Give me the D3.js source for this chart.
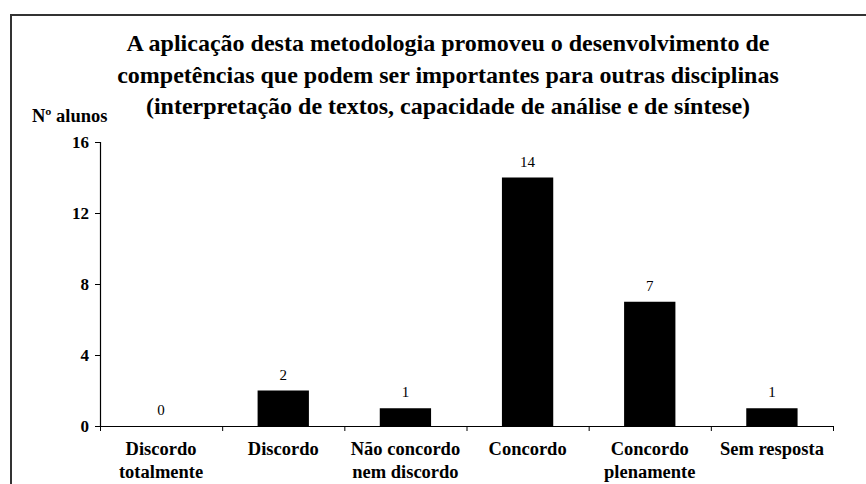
<!DOCTYPE html>
<html>
<head>
<meta charset="utf-8">
<script src="https://cdn.jsdelivr.net/npm/d3@7"></script>
<style>
  body { margin: 0; background: #fff; }
</style>
</head>
<body>
<div class="chart"></div>
<script>
// Chart data
var categories = [
  ["Discordo", "totalmente"],
  ["Discordo"],
  ["Não concordo", "nem discordo"],
  ["Concordo"],
  ["Concordo", "plenamente"],
  ["Sem resposta"]
];
var counts = [0, 2, 1, 14, 7, 1];
var yTicks = [0, 4, 8, 12, 16];
var titleLines = [
  "A aplicação desta metodologia promoveu o desenvolvimento de",
  "competências que podem ser importantes para outras disciplinas",
  "(interpretação de textos, capacidade de análise e de síntese)"
];

var serif = "'Liberation Serif', 'Times New Roman', serif";

var svgWidth = 866;
var svgHeight = 484;

var svg = d3.select(".chart")
  .append("svg")
  .attr("width", svgWidth)
  .attr("height", svgHeight);

// outer frame (runs off the right and bottom edge)
svg.append("rect")
  .attr("x", 11)
  .attr("y", 15)
  .attr("width", 900)
  .attr("height", 500)
  .attr("fill", "none")
  .attr("stroke", "#333")
  .attr("stroke-width", 2);

// plot area
var margin = { top: 142, left: 100 };
var width = 733;
var height = 284;

var chartGroup = svg.append("g")
  .attr("transform", `translate(${margin.left}, ${margin.top})`);

var keys = categories.map((c, i) => i);

var xBandScale = d3.scaleBand()
  .domain(keys)
  .range([0, width])
  .paddingInner(0.58)
  .paddingOuter(0.29);

var yLinearScale = d3.scaleLinear()
  .domain([0, 16])
  .range([height, 0]);

// bars
chartGroup.selectAll(".bar")
  .data(counts)
  .enter()
  .append("rect")
  .attr("class", "bar")
  .attr("x", (d, i) => xBandScale(i))
  .attr("y", d => yLinearScale(d))
  .attr("width", xBandScale.bandwidth())
  .attr("height", d => height - yLinearScale(d))
  .attr("fill", "#000");

// value labels
chartGroup.selectAll(".val")
  .data(counts)
  .enter()
  .append("text")
  .attr("class", "val")
  .attr("x", (d, i) => xBandScale(i) + xBandScale.bandwidth() / 2)
  .attr("y", d => yLinearScale(d) - 11)
  .attr("text-anchor", "middle")
  .style("font-family", serif)
  .style("font-size", "15px")
  .text(d => d);

// y axis
var leftAxis = d3.axisLeft(yLinearScale)
  .tickValues(yTicks)
  .tickSize(5)
  .tickPadding(6);

var yAxis = chartGroup.append("g")
  .call(leftAxis);
yAxis.select(".domain").attr("stroke", "#000").attr("stroke-width", 1.2);
yAxis.selectAll("line").attr("stroke", "#000");
yAxis.selectAll("text")
  .style("font-family", serif)
  .style("font-size", "17px")
  .style("font-weight", "bold")
  .attr("dy", "0.35em");

// x axis: tick marks at band boundaries
var xEdge = d3.scaleLinear().domain([0, categories.length]).range([0, width]);
var bottomAxis = d3.axisBottom(xEdge)
  .tickValues(d3.range(categories.length + 1))
  .tickSize(5)
  .tickSizeOuter(0)
  .tickFormat("");

var xAxis = chartGroup.append("g")
  .attr("transform", `translate(0, ${height})`)
  .call(bottomAxis);
xAxis.select(".domain").attr("stroke", "#000").attr("stroke-width", 1.2);
xAxis.selectAll("line").attr("stroke", "#000");

// category labels
var catLabels = chartGroup.selectAll(".cat")
  .data(categories)
  .enter()
  .append("text")
  .attr("class", "cat")
  .attr("x", (d, i) => xBandScale(i) + xBandScale.bandwidth() / 2)
  .attr("y", height + 29)
  .attr("text-anchor", "middle")
  .style("font-family", serif)
  .style("font-size", "18.5px")
  .style("font-weight", "bold");

catLabels.selectAll("tspan")
  .data(d => d)
  .enter()
  .append("tspan")
  .attr("x", function() { return d3.select(this.parentNode).attr("x"); })
  .attr("dy", (d, i) => i === 0 ? 0 : 23)
  .text(d => d);

// y axis title
svg.append("text")
  .attr("x", 32)
  .attr("y", 122)
  .style("font-family", serif)
  .style("font-size", "18.5px")
  .style("font-weight", "bold")
  .text("Nº alunos");

// chart title
svg.append("g")
  .selectAll("text")
  .data(titleLines)
  .enter()
  .append("text")
  .attr("x", 448)
  .attr("y", (d, i) => 51 + i * 31.5)
  .attr("text-anchor", "middle")
  .style("font-family", serif)
  .style("font-size", "24px")
  .style("font-weight", "bold")
  .text(d => d);
</script>
</body>
</html>
